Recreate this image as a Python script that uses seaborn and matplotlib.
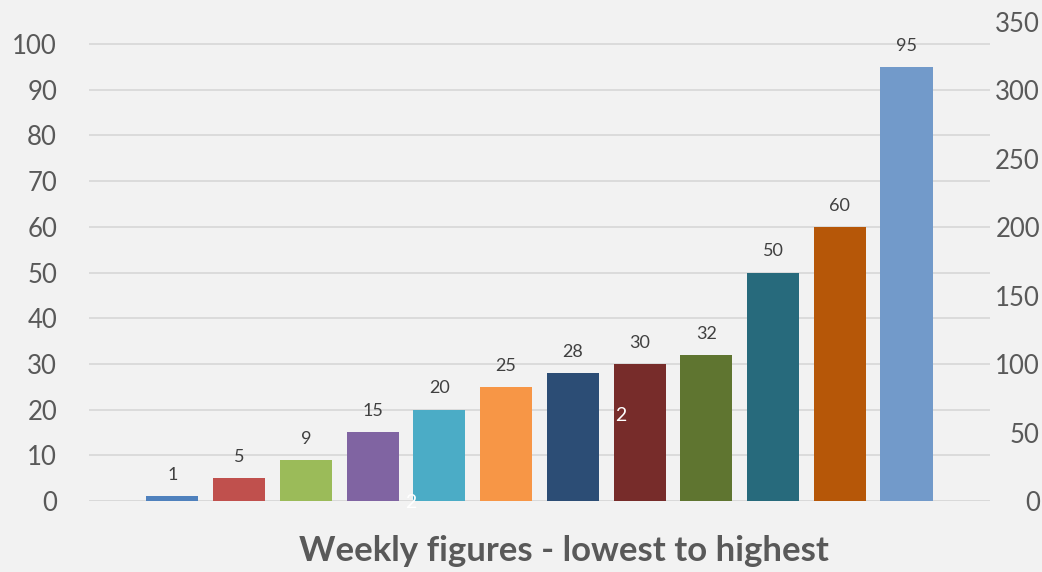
import matplotlib
matplotlib.use("Agg")
import matplotlib.pyplot as plt
import seaborn as sns
import pandas as pd

# weekly values, sorted lowest to highest
weeks = ["W1", "W2", "W3", "W4", "W5", "W6", "W7", "W8", "W9", "W10", "W11", "W12"]
values = [1, 5, 9, 15, 20, 25, 28, 30, 32, 50, 60, 95]
colors = ["#4F81BD", "#C0504D", "#9BBB59", "#8064A2", "#4BACC6", "#F79646",
          "#2C4D75", "#772C2A", "#5F7530", "#276A7C", "#B65708", "#729ACA"]
left_ticks = [0, 10, 20, 30, 40, 50, 60, 70, 80, 90, 100]
right_ticks = [0, 50, 100, 150, 200, 250, 300, 350]
# stray white labels from a hidden series (x position, left-axis value)
stray_x = [3.57, 6.72]
stray_y = [-0.4, 18.8]
stray_text = ["2", "2"]
title = "Weekly figures - lowest to highest"

sns.set_style("white")
plt.rcParams["font.family"] = ["Lato", "DejaVu Sans"]

bg = "#F2F2F2"
fig = plt.figure(figsize=(10.42, 5.72), dpi=100, facecolor=bg)
ax = fig.add_axes([0.0854, 0.1241, 0.8646, 0.8374])
ax.set_facecolor(bg)

df = pd.DataFrame({"week": weeks, "value": values})
sns.barplot(data=df, x="week", y="value", hue="week", palette=colors,
            width=0.78, legend=False, ax=ax, saturation=1,
            edgecolor="none", linewidth=0)

ax.set_ylim(0, 100 * 479 / 457)
ax.set_xlim(-1.25, len(weeks) - 1 + 1.25)
ax.set_yticks(left_ticks)
ax.yaxis.grid(True, color="#D9D9D9", linewidth=1.3)
ax.set_axisbelow(True)
ax.set_xticks([])
ax.set_xlabel("")
ax.set_ylabel("")
for s in ax.spines.values():
    s.set_visible(False)
ax.axhline(0, color="#D9D9D9", linewidth=1.3, zorder=0)
ax.tick_params(axis="y", length=0, labelsize=18.5, labelcolor="#595959", pad=23)

for i, v in enumerate(values):
    ax.text(i, v + 2.9, str(v), ha="center", va="bottom", fontsize=13, color="#404040")

for x, y, t in zip(stray_x, stray_y, stray_text):
    ax.text(x, y, t, ha="center", va="center", fontsize=14, color="white")

ax2 = ax.twinx()
ax2.set_ylim(0, 350)
ax2.set_yticks(right_ticks)
for s in ax2.spines.values():
    s.set_visible(False)
ax2.tick_params(axis="y", length=0, labelsize=18.5, labelcolor="#595959", pad=36)
for lbl in ax2.get_yticklabels():
    lbl.set_horizontalalignment("right")

fig.text(0.541, 0.037, title, ha="center", va="center", fontsize=25,
         fontweight="bold", color="#595959")

fig.savefig("out.png", dpi=100, facecolor=bg)
